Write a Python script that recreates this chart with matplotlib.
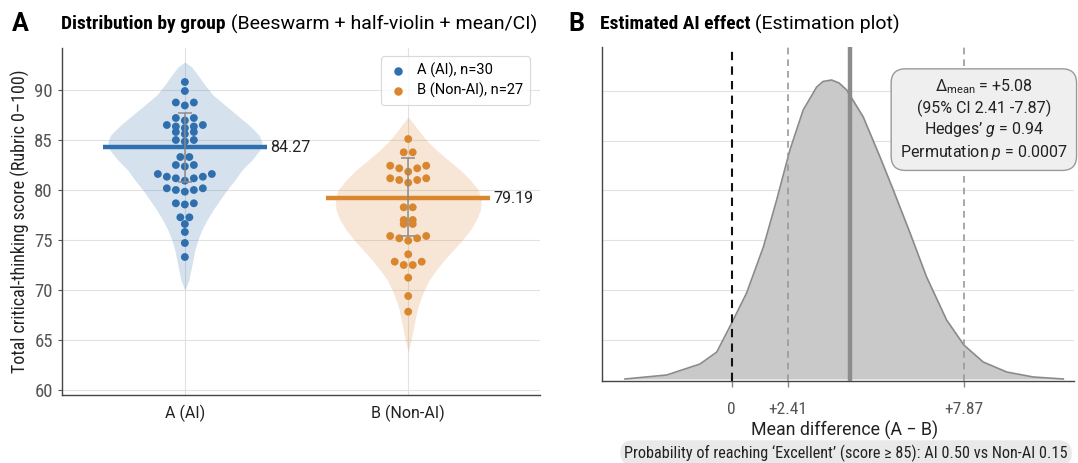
import matplotlib
matplotlib.use("Agg")
import matplotlib.pyplot as plt
import numpy as np
from matplotlib import font_manager

names = {f.name for f in font_manager.fontManager.ttflist}
FONT = next((n for n in ["Roboto Condensed", "Liberation Sans Narrow", "Roboto"] if n in names), "DejaVu Sans")
FONT2 = "Roboto" if "Roboto" in names else FONT
plt.rcParams["font.family"] = [FONT, "DejaVu Sans"]
plt.rcParams["mathtext.fontset"] = "custom"
plt.rcParams["mathtext.it"] = FONT2 + ":italic"
plt.rcParams["mathtext.rm"] = FONT2

# ---------------- data ----------------
groups = ["A (AI)", "B (Non-AI)"]
legend_labels = ["A (AI), n=30", "B (Non-AI), n=27"]
means = [84.27, 79.19]
ci_a = [80.81, 87.73]
ci_b = [75.43, 83.20]

scores_a = [90.8, 89.9,
            88.45, 88.75, 88.75,
            86.95, 87.2, 87.2,
            86.2, 86.35, 86.35, 86.5, 86.5,
            85.6, 85.8, 85.8,
            84.85, 85.0, 85.0,
            83.3, 83.3,
            82.35, 82.5, 82.5,
            80.93, 81.17, 81.17, 81.33, 81.33, 81.6, 81.6,
            79.83, 80.0, 80.0, 80.17, 80.17,
            78.55, 78.67, 78.67,
            77.27, 77.27,
            76.6, 75.8, 74.7, 73.3]
scores_b = [85.1,
            83.77, 83.77,
            81.83, 82.17, 82.17, 82.43, 82.43,
            80.73, 81.0, 81.0, 81.17, 81.17,
            78.27, 78.27,
            76.6, 76.6, 77.0, 77.0,
            74.93, 75.17, 75.17, 75.4, 75.4,
            73.57,
            72.5, 72.5, 72.83, 72.83,
            71.23, 69.4, 67.83]

# violin outlines: score level vs half-width (category units)
violin_a_y = [70.0, 71, 72, 73, 74, 75, 76, 77, 78, 79, 80, 81, 82, 83, 84, 84.8,
              85.5, 86.5, 87.5, 88.5, 89.5, 90.5, 91.5, 92.3, 92.8]
violin_a_w = [0.0, 0.018, 0.027, 0.036, 0.045, 0.058, 0.076, 0.099, 0.126, 0.157, 0.188,
              0.224, 0.256, 0.300, 0.336, 0.345, 0.332, 0.287, 0.233, 0.179, 0.126,
              0.090, 0.058, 0.031, 0.0]
violin_b_y = [63.8, 65, 66, 67, 68, 69, 70, 71, 72, 73, 74, 75, 76, 77, 78, 79, 80,
              81, 82, 83, 84, 85, 86, 86.8, 87.3]
violin_b_w = [0.0, 0.013, 0.022, 0.031, 0.040, 0.054, 0.072, 0.094, 0.126, 0.161, 0.202,
              0.242, 0.278, 0.305, 0.323, 0.327, 0.314, 0.278, 0.233, 0.179, 0.126,
              0.081, 0.045, 0.018, 0.0]

# panel B: bootstrap distribution of mean difference
diff_x = [-4.58, -2.79, -1.36, -0.64, 0.0, 0.64, 1.36, 1.93, 2.50, 3.07, 3.65, 3.92,
          4.29, 4.61, 4.94, 5.65, 6.37, 6.94, 7.66, 8.37, 9.23, 9.97, 10.80, 11.81,
          12.95, 14.24]
diff_density = [0.000, 0.004, 0.015, 0.027, 0.056, 0.086, 0.132, 0.179, 0.229, 0.269,
                0.292, 0.2975, 0.299, 0.296, 0.289, 0.262, 0.222, 0.189, 0.146, 0.102,
                0.059, 0.034, 0.017, 0.007, 0.002, 0.000]
mean_diff_pos = 5.08
ci_line_pos = [2.41, 9.97]
tick_pos_b = [0, 2.41, 9.97]
tick_labels_b = ["0", "+2.41", "+7.87"]
stats_text = ("$\\Delta_{\\mathrm{mean}}$ = +5.08\n(95% CI 2.41 -7.87)\n"
              "Hedges\u2019 $g$ = 0.94\nPermutation $p$ = 0.0007")
prob_text = "Probability of reaching \u2018Excellent\u2019 (score \u2265 85): AI 0.50 vs Non-AI 0.15"

BLUE = "#2f6fae"
ORANGE = "#d9862e"
GRID = "#e2e2e2"
TICKC = "#555555"
TXT = "#222222"

W, H = 1078, 463
fig = plt.figure(figsize=(W / 100, H / 100), dpi=100)


def fbox(l, t, r, b):
    return [l / W, 1 - b / H, (r - l) / W, (b - t) / H]


axA = fig.add_axes(fbox(62, 48, 540, 395))
axB = fig.add_axes(fbox(602, 47, 1074, 381))

# ---------------- panel A ----------------
axA.set_xlim(-0.55, 1.59)
axA.set_ylim(59.5, 94.2)
px_per_unit = (540 - 62) / (1.59 + 0.55)
spacing = 9.0 / px_per_unit


def swarm_offsets(vals, gap=0.35):
    vals = np.asarray(vals, float)
    order = np.argsort(vals, kind="stable")
    offs = np.zeros(len(vals))
    rows, cur = [], [order[0]]
    for i in order[1:]:
        if vals[i] - vals[cur[-1]] > gap:
            rows.append(cur)
            cur = [i]
        else:
            cur.append(i)
    rows.append(cur)
    for r in rows:
        k = len(r)
        pos = (np.arange(k) - (k - 1) / 2) * spacing
        pos = pos[np.argsort(np.abs(pos), kind="stable")]
        for idx, p in zip(r, pos):
            offs[idx] = p
    return offs


for gi, (sc, vy, vw, col, ci) in enumerate([(scores_a, violin_a_y, violin_a_w, BLUE, ci_a),
                                            (scores_b, violin_b_y, violin_b_w, ORANGE, ci_b)]):
    vy = np.array(vy)
    vw = np.array(vw)
    axA.fill_betweenx(vy, gi - vw, gi + vw, color=col, alpha=0.2, lw=0, zorder=1)
    offs = swarm_offsets(sc)
    axA.scatter(gi + offs, sc, s=32, color=col, edgecolor="none", zorder=3)
    axA.plot([gi - 0.368, gi + 0.368], [means[gi], means[gi]], color=col, lw=3.2,
             solid_capstyle="butt", zorder=4)
    axA.text(gi + 0.368 + 0.015, means[gi], f"{means[gi]:.2f}", va="center", ha="left",
             fontsize=11.5, color=TXT, family=FONT2)
    axA.errorbar([gi], [means[gi]], yerr=[[means[gi] - ci[0]], [ci[1] - means[gi]]],
                 fmt="none", ecolor="#888888", elinewidth=1.3, capsize=5, capthick=1.3,
                 alpha=0.8, zorder=5)

for lab, col in zip(legend_labels, [BLUE, ORANGE]):
    axA.scatter([], [], s=26, color=col, label=lab)
leg = axA.legend(loc="upper right", bbox_to_anchor=(0.985, 0.985),
                 prop={"family": FONT2, "size": 10.5},
                 frameon=True, handletextpad=0.7, borderpad=0.45, labelspacing=0.35,
                 handlelength=1.3, borderaxespad=0.2)
leg.get_frame().set_edgecolor("#d0d0d0")
leg.get_frame().set_linewidth(0.8)

axA.set_yticks([60, 65, 70, 75, 80, 85, 90])
axA.set_xticks([0, 1])
axA.set_xticklabels(groups, fontsize=11.5, color=TXT, family=FONT2)
axA.tick_params(axis="y", labelsize=13.5, colors=TICKC, length=3, width=0.8)
axA.tick_params(axis="x", length=0, pad=7)
axA.grid(True, color=GRID, lw=0.8, zorder=0)
axA.set_axisbelow(True)
for s in ["top", "right"]:
    axA.spines[s].set_visible(False)
for s in ["left", "bottom"]:
    axA.spines[s].set_color("#444444")
    axA.spines[s].set_linewidth(1.0)
axA.set_ylabel("Total critical-thinking score (Rubric 0\u2013100)", fontsize=13, color=TXT,
               labelpad=3)

# ---------------- panel B ----------------
axB.set_xlim(-5.57, 14.70)
axB.set_ylim(-0.002, 0.332)
axB.fill_between(diff_x, 0, diff_density, color="#c9c9c9", lw=0, zorder=1)
axB.plot(diff_x, diff_density, color="#8a8a8a", lw=1.2, zorder=2)
axB.axvline(0, color="#111111", lw=1.5, ls=(0, (4, 3)), zorder=3)
for p in ci_line_pos:
    axB.axvline(p, color="#9a9a9a", lw=1.2, ls=(0, (4, 3)), zorder=3)
axB.axvline(mean_diff_pos, color="#8c8c8c", lw=3.2, zorder=4)
axB.set_xticks(tick_pos_b)
axB.set_xticklabels(tick_labels_b, fontsize=12.5, color=TICKC)
axB.set_yticks([0.039, 0.089, 0.139, 0.189, 0.238, 0.288])
axB.tick_params(axis="y", length=0, labelleft=False)
axB.tick_params(axis="x", length=4, width=1.0, colors="#888888", labelcolor=TICKC, pad=11)
axB.grid(True, axis="y", color=GRID, lw=0.8, zorder=0)
axB.set_axisbelow(True)
for s in ["top", "right"]:
    axB.spines[s].set_visible(False)
for s in ["left", "bottom"]:
    axB.spines[s].set_color("#444444")
    axB.spines[s].set_linewidth(1.0)
axB.set_xlabel("Mean difference (A \u2212 B)", fontsize=12.8, color=TXT, family=FONT2)
axB.xaxis.set_label_coords(0.514, -0.118)

axB.text(0.809, 0.783, stats_text, transform=axB.transAxes, ha="center", va="center",
         fontsize=11.5, linespacing=1.25, color=TXT, zorder=6, family=FONT2,
         bbox=dict(boxstyle="round,pad=0.55,rounding_size=0.9", fc="#efefef", ec="#9a9a9a", lw=1.0))

fig.text(846 / W, 1 - 453 / H, prob_text, ha="center", va="center", fontsize=11.7, color=TXT,
         bbox=dict(boxstyle="round,pad=0.25,rounding_size=0.8", fc="#e9e9e9", ec="none"))

# ---------------- titles ----------------
TY = 1 - 24 / H
fig.text(12 / W, TY, "A", fontsize=18, fontweight="bold", va="center", ha="left", family=FONT2)
fig.text(568 / W, TY, "B", fontsize=18, fontweight="bold", va="center", ha="left", family=FONT2)
tA = fig.text(61 / W, TY, "Distribution by group", fontsize=14, fontweight="bold",
              va="center", ha="left")
tB = fig.text(600 / W, TY, "Estimated AI effect", fontsize=14, fontweight="bold",
              va="center", ha="left")

fig.canvas.draw()
r = fig.canvas.get_renderer()
for t, s in [(tA, " (Beeswarm + half-violin + mean/CI)"), (tB, " (Estimation plot)")]:
    bb = t.get_window_extent(r)
    fig.text(bb.x1 / W, TY, s, fontsize=14, va="center", ha="left", family=FONT2)

fig.savefig("out.png", dpi=100)
